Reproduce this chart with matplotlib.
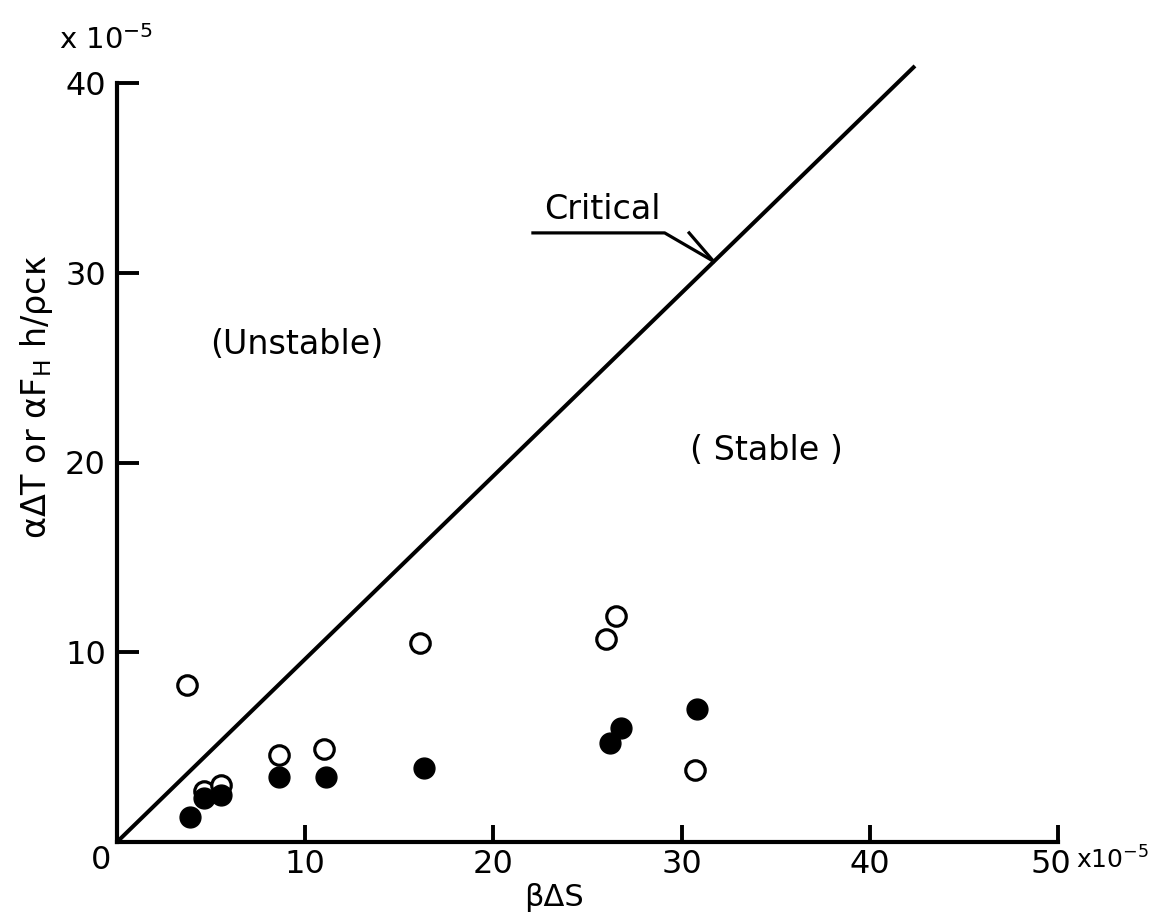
import matplotlib
matplotlib.use("Agg")
import matplotlib.pyplot as plt
from matplotlib.transforms import ScaledTranslation

plt.rcParams['font.family'] = ['DejaVu Sans']
plt.rcParams['mathtext.default'] = 'regular'

# ---- data (units of 1e-5) ----
open_x = [3.7, 4.6, 5.5, 8.6, 11.0, 16.1, 26.0, 26.5, 30.7]
open_y = [8.3, 2.7, 3.0, 4.6, 4.9, 10.5, 10.7, 11.9, 3.8]
filled_x = [3.9, 4.6, 5.5, 8.6, 11.1, 16.3, 26.2, 26.8, 30.8]
filled_y = [1.3, 2.3, 2.5, 3.4, 3.4, 3.9, 5.2, 6.0, 7.0]
critical_x = [0, 42.4]
critical_y = [0, 40.9]
x_ticks = [0, 10, 20, 30, 40, 50]
x_ticklabels = ['', '10', '20', '30', '40', '50']
y_ticks = [0, 10, 20, 30, 40]
y_ticklabels = ['', '10', '20', '30', '40']

fig = plt.figure(figsize=(11.62, 9.18), dpi=100)
ax = fig.add_axes([117/1162, 76/918, 941/1162, 759/918])
ax.set_xlim(0, 50)
ax.set_ylim(0, 40)

for s in ['top', 'right']:
    ax.spines[s].set_visible(False)
for s in ['left', 'bottom']:
    ax.spines[s].set_linewidth(3.0)

ax.set_xticks(x_ticks)
ax.set_xticklabels(x_ticklabels)
ax.set_yticks(y_ticks)
ax.set_yticklabels(y_ticklabels)
ax.tick_params(axis='x', direction='in', length=12, width=2.8, labelsize=23, pad=5)
ax.tick_params(axis='y', direction='in', length=16, width=2.8, labelsize=23, pad=8)

# shift the last x tick label ("50") slightly left, as in the reference
last = ax.get_xticklabels()[-1]
last.set_transform(last.get_transform() + ScaledTranslation(-5/72, 0, fig.dpi_scale_trans))

# critical line
ax.plot(critical_x, critical_y, color='black', lw=2.9, clip_on=False, solid_capstyle='butt')

# data points
ax.plot(open_x, open_y, 'o', ms=14, mfc='white', mec='black', mew=2.3, clip_on=False, zorder=3)
ax.plot(filled_x, filled_y, 'o', ms=15, mfc='black', mec='black', mew=1, clip_on=False, zorder=4)

# Critical annotation
ax.text(25.8, 32.45, 'Critical', fontsize=24, ha='center', va='bottom')
ax.plot([22.1, 29.1, 31.7], [32.1, 32.1, 30.6], color='black', lw=2.3, clip_on=False)
ax.plot([30.4, 31.7], [32.1, 30.6], color='black', lw=2.3, clip_on=False)

ax.text(9.56, 26.2, '(Unstable)', fontsize=24, ha='center', va='center')
ax.text(34.5, 20.65, '( Stable )', fontsize=24, ha='center', va='center')

# axis labels / origin / multipliers
ax.text(-0.85, -0.95, '0', fontsize=23, ha='center', va='center', clip_on=False)
ax.text(23.2, -2.95, 'βΔS', fontsize=22, ha='center', va='center', clip_on=False)
fig.text(37/1162, 1 - 397/918, r'αΔT or αF$_{H}$ h/ρcκ', fontsize=24,
         rotation=90, ha='center', va='center')
fig.text(106/1162, 1 - 40/918, r'x 10$^{-5}$', fontsize=21, ha='center', va='center')
fig.text(1076/1162, 1 - 860/918, r'x10$^{-5}$', fontsize=18, ha='left', va='center')

fig.savefig('out.png', dpi=100, facecolor='white')
